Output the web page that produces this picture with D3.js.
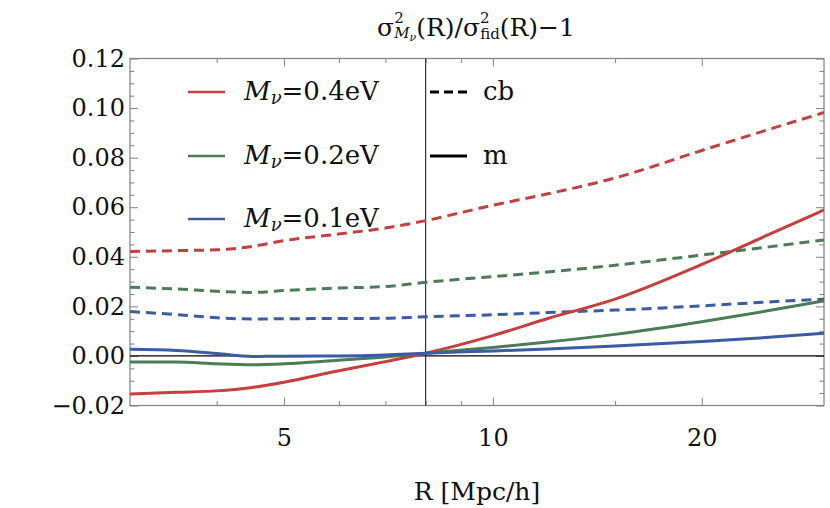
<!DOCTYPE html>
<html>
<head>
<meta charset="utf-8">
<script src="https://cdn.jsdelivr.net/npm/d3@7.9.0/dist/d3.min.js"></script>
<style>
  body { margin: 0; background: #fff; }
  svg { display: block; font-family: 'DejaVu Serif', 'Liberation Serif', serif; }
</style>
</head>
<body>
<svg id="chart" width="830" height="508"></svg>
<script>
// R values (Mpc/h) where curves were read
const radii = [3, 3.5, 4, 4.5, 5, 6, 7, 8, 10, 12, 15, 20, 25, 30];

// cb (dashed)
const cb04 = [0.0421, 0.0425, 0.0428, 0.0442, 0.0465, 0.0492, 0.0516, 0.0546, 0.0608, 0.0654, 0.0718, 0.0829, 0.0914, 0.0982];
const cb02 = [0.0277, 0.0270, 0.0261, 0.0256, 0.0264, 0.0274, 0.0280, 0.0297, 0.0320, 0.0339, 0.0366, 0.0407, 0.0440, 0.0468];
const cb01 = [0.0179, 0.0167, 0.0154, 0.0149, 0.0150, 0.0151, 0.0152, 0.0158, 0.0166, 0.0175, 0.0185, 0.0202, 0.0218, 0.0229];

// m (solid)
const m04 = [-0.0154, -0.0147, -0.0141, -0.0127, -0.0106, -0.0060, -0.0023, 0.0011, 0.0082, 0.0151, 0.0229, 0.0369, 0.0490, 0.0589];
const m02 = [-0.0024, -0.0024, -0.0032, -0.0036, -0.0032, -0.0017, -0.0004, 0.0011, 0.0034, 0.0056, 0.0087, 0.0138, 0.0183, 0.0222];
const m01 = [0.0027, 0.0022, 0.0010, -0.0002, -0.0001, 0.0000, 0.0004, 0.0011, 0.0020, 0.0028, 0.0040, 0.0058, 0.0075, 0.0092];

const massLabels = ['0.4eV', '0.2eV', '0.1eV'];
const colors = ['#c63f3e', '#4a7d55', '#3b5ba3'];

const xMajor = [5, 10, 20];
const xMinor = [4, 6, 7, 8, 9, 15];
const yMajor = [-0.02, 0, 0.02, 0.04, 0.06, 0.08, 0.10, 0.12];
const yMinor = [-0.015, -0.01, -0.005, 0.005, 0.01, 0.015, 0.025, 0.03, 0.035, 0.045, 0.05, 0.055,
  0.065, 0.07, 0.075, 0.085, 0.09, 0.095, 0.105, 0.11, 0.115];

const rMark = 8;

const plotLeft = 130, plotRight = 824, plotTop = 58.5, plotBottom = 405.5;
const font = "'DejaVu Serif', serif";

const svg = d3.select('#chart');

const x = d3.scaleLog().domain([3, 30]).range([plotLeft, plotRight]);
const y = d3.scaleLinear().domain([-0.02, 0.12]).range([plotBottom, plotTop]);

svg.append('clipPath').attr('id', 'clip')
  .append('rect')
  .attr('x', plotLeft).attr('y', plotTop)
  .attr('width', plotRight - plotLeft).attr('height', plotBottom - plotTop);

const frameColor = '#808080';

// ticks on all four sides, pointing inward
function styleAxis(g) {
  g.select('.domain').remove();
  g.selectAll('.tick line').attr('stroke', frameColor).attr('stroke-width', 1);
  g.selectAll('text').attr('fill', '#111').attr('font-size', 24).attr('font-family', font);
}

svg.append('g').attr('transform', `translate(0,${plotBottom})`)
  .call(d3.axisBottom(x).tickValues(xMajor).tickSize(-8).tickPadding(23).tickFormat(d3.format('d')))
  .call(styleAxis);
svg.append('g').attr('transform', `translate(0,${plotBottom})`)
  .call(d3.axisBottom(x).tickValues(xMinor).tickSize(-4.5).tickFormat(''))
  .call(styleAxis);
svg.append('g').attr('transform', `translate(0,${plotTop})`)
  .call(d3.axisTop(x).tickValues(xMajor).tickSize(-8).tickFormat(''))
  .call(styleAxis);
svg.append('g').attr('transform', `translate(0,${plotTop})`)
  .call(d3.axisTop(x).tickValues(xMinor).tickSize(-4.5).tickFormat(''))
  .call(styleAxis);

svg.append('g').attr('transform', `translate(${plotLeft},0)`)
  .call(d3.axisLeft(y).tickValues(yMajor).tickSize(-8).tickPadding(5).tickFormat(d3.format('.2f')))
  .call(styleAxis);
svg.append('g').attr('transform', `translate(${plotLeft},0)`)
  .call(d3.axisLeft(y).tickValues(yMinor).tickSize(-4.5).tickFormat(''))
  .call(styleAxis);
svg.append('g').attr('transform', `translate(${plotRight},0)`)
  .call(d3.axisRight(y).tickValues(yMajor).tickSize(-8).tickFormat(''))
  .call(styleAxis);
svg.append('g').attr('transform', `translate(${plotRight},0)`)
  .call(d3.axisRight(y).tickValues(yMinor).tickSize(-4.5).tickFormat(''))
  .call(styleAxis);

// frame
svg.append('rect')
  .attr('x', plotLeft).attr('y', plotTop)
  .attr('width', plotRight - plotLeft).attr('height', plotBottom - plotTop)
  .attr('fill', 'none').attr('stroke', frameColor).attr('stroke-width', 1.2);

// reference lines
svg.append('line')
  .attr('x1', plotLeft).attr('x2', plotRight)
  .attr('y1', y(0)).attr('y2', y(0))
  .attr('stroke', '#000').attr('stroke-width', 1.2);
svg.append('line')
  .attr('x1', x(rMark)).attr('x2', x(rMark))
  .attr('y1', plotTop).attr('y2', plotBottom)
  .attr('stroke', '#333').attr('stroke-width', 1.2);

const line = d3.line()
  .x((d, i) => x(radii[i]))
  .y(d => y(d))
  .curve(d3.curveMonotoneX);

const plot = svg.append('g').attr('clip-path', 'url(#clip)');

[cb04, cb02, cb01].forEach((s, i) => {
  plot.append('path')
    .attr('d', line(s))
    .attr('fill', 'none')
    .attr('stroke', colors[i])
    .attr('stroke-width', 3)
    .attr('stroke-dasharray', '10,6');
});
[m04, m02, m01].forEach((s, i) => {
  plot.append('path')
    .attr('d', line(s))
    .attr('fill', 'none')
    .attr('stroke', colors[i])
    .attr('stroke-width', 3);
});

// legend
const legendRows = [92, 156, 219];
massLabels.forEach((lab, i) => {
  svg.append('line')
    .attr('x1', 188).attr('x2', 225)
    .attr('y1', legendRows[i]).attr('y2', legendRows[i])
    .attr('stroke', colors[i]).attr('stroke-width', 2.5);
  const t = svg.append('text')
    .attr('x', 244).attr('y', legendRows[i] + 8)
    .attr('font-size', 26).attr('fill', '#111');
  t.append('tspan').attr('font-style', 'italic').text('M');
  t.append('tspan').attr('font-style', 'italic').attr('font-size', 18).attr('dy', 4).text('ν');
  t.append('tspan').attr('dy', -4).text('=' + lab);
});

const typeLegend = [['cb', '9,5'], ['m', null]];
typeLegend.forEach(([lab, dash], i) => {
  const l = svg.append('line')
    .attr('x1', 430).attr('x2', 467)
    .attr('y1', legendRows[i]).attr('y2', legendRows[i])
    .attr('stroke', '#000').attr('stroke-width', 2.8);
  if (dash) l.attr('stroke-dasharray', dash);
  svg.append('text')
    .attr('x', 483).attr('y', legendRows[i] + 8)
    .attr('font-size', 26).attr('fill', '#111')
    .text(lab);
});

// title
const title = svg.append('text')
  .attr('x', 476).attr('y', 36)
  .attr('text-anchor', 'middle')
  .attr('font-size', 25).attr('fill', '#111');
title.append('tspan').text('σ');
title.append('tspan').attr('font-size', 15).attr('dy', -13).text('2');
title.append('tspan').attr('font-size', 15).attr('font-style', 'italic').attr('dx', -9.5).attr('dy', 15).text('M');
title.append('tspan').attr('font-size', 11).attr('font-style', 'italic').attr('dy', 3).text('ν');
title.append('tspan').attr('dy', -5).text('(R)/σ');
title.append('tspan').attr('font-size', 15).attr('dy', -13).text('2');
title.append('tspan').attr('font-size', 15).attr('dx', -9.5).attr('dy', 16).text('fid');
title.append('tspan').attr('dy', -3).text('(R)−1');

// x-axis label
svg.append('text')
  .attr('x', (plotLeft + plotRight) / 2).attr('y', 500)
  .attr('text-anchor', 'middle')
  .attr('font-size', 25).attr('fill', '#111')
  .text('R [Mpc/h]');
</script>
</body>
</html>
